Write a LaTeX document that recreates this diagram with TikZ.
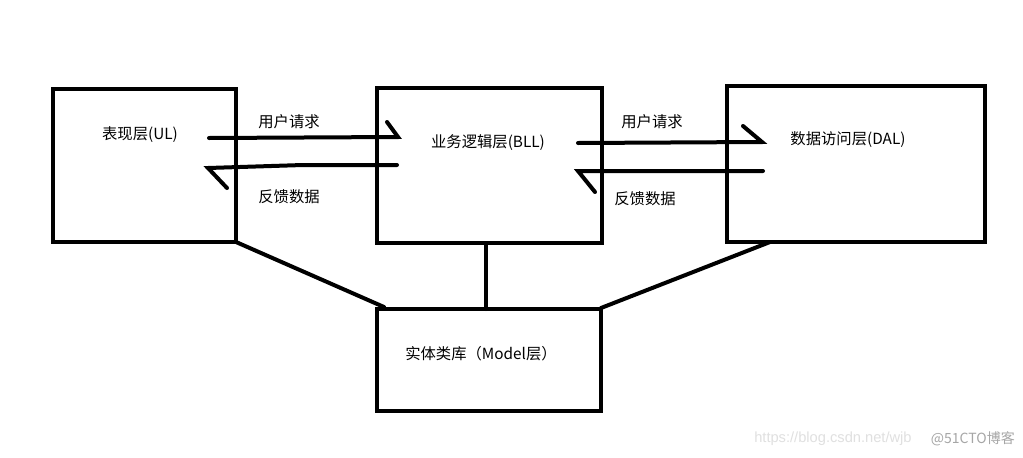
\documentclass[tikz,border=0pt]{standalone}
\usepackage{fontspec}
\setmainfont{Noto Sans CJK SC}
\newfontfamily\wmfont{Liberation Sans}
\begin{document}
\begin{tikzpicture}[x=0.75pt,y=-0.75pt,
  layer/.style={draw=black,line width=3pt,fill=white},
  conn/.style={line width=3pt,line cap=round},
  lbl/.style={font=\fontsize{11.5}{13}\selectfont,inner sep=0pt}]
\useasboundingbox (0,0) rectangle (1023,457);
\fill[white] (0,0) rectangle (1023,457);
% boxes
\draw[layer] (53,89) rectangle (236,242);
\draw[layer] (377,88) rectangle (602,243);
\draw[layer] (727,86) rectangle (985,242);
\draw[layer] (377,309) rectangle (601,411);
\node[lbl] (ul) at (140,135) {表现层(UL)};
\node[lbl] (bll) at (488,143) {业务逻辑层(BLL)};
\node[lbl] (dal) at (848,140) {数据访问层(DAL)};
\node[lbl] (model) at (481,354) {实体类库（Model层）};
% connection points
\coordinate (ulbr) at (236,242);
\coordinate (mtl) at (384,307);
\coordinate (bllb) at (486,243);
\coordinate (mt) at (486,309);
\coordinate (dalb) at (770,242);
\coordinate (mtr) at (601,308);
\draw[conn] (ulbr) -- (mtl);
\draw[conn] (bllb) -- (mt);
\draw[conn] (dalb) -- (mtr);
% arrows left
\coordinate (a1s) at (209,138);
\coordinate (a1t) at (398,137);
\coordinate (a1b) at (387,122);
\draw[conn] (a1s) -- (a1t) -- (a1b);
\coordinate (a2s) at (397,165);
\coordinate (a2m) at (303,165);
\coordinate (a2t) at (208,168);
\coordinate (a2b) at (227,188);
\draw[conn] (a2s) -- (a2m) -- (a2t) -- (a2b);
% arrows right
\coordinate (a3s) at (578,143);
\coordinate (a3t) at (762,142);
\coordinate (a3b) at (743,126);
\draw[conn] (a3s) -- (a3t) -- (a3b);
\coordinate (a4s) at (763,171);
\coordinate (a4t) at (578,171);
\coordinate (a4b) at (595,192);
\draw[conn] (a4s) -- (a4t) -- (a4b);
% labels
\node[lbl] (l1) at (289,122) {用户请求};
\node[lbl] (l2) at (289,197) {反馈数据};
\node[lbl] (l3) at (652,122) {用户请求};
\node[lbl] (l4) at (645,199) {反馈数据};
% watermark
\node[anchor=west,inner sep=0pt,text=black!12,font=\wmfont\fontsize{11}{12}\selectfont] (wm1) at (754,439) {https://blog.csdn.net/wjb};
\node[anchor=east,inner sep=0pt,text=black!35,font=\fontsize{10.5}{12}\selectfont] (wm2) at (1015,439) {@51CTO博客};
\end{tikzpicture}
\end{document}
